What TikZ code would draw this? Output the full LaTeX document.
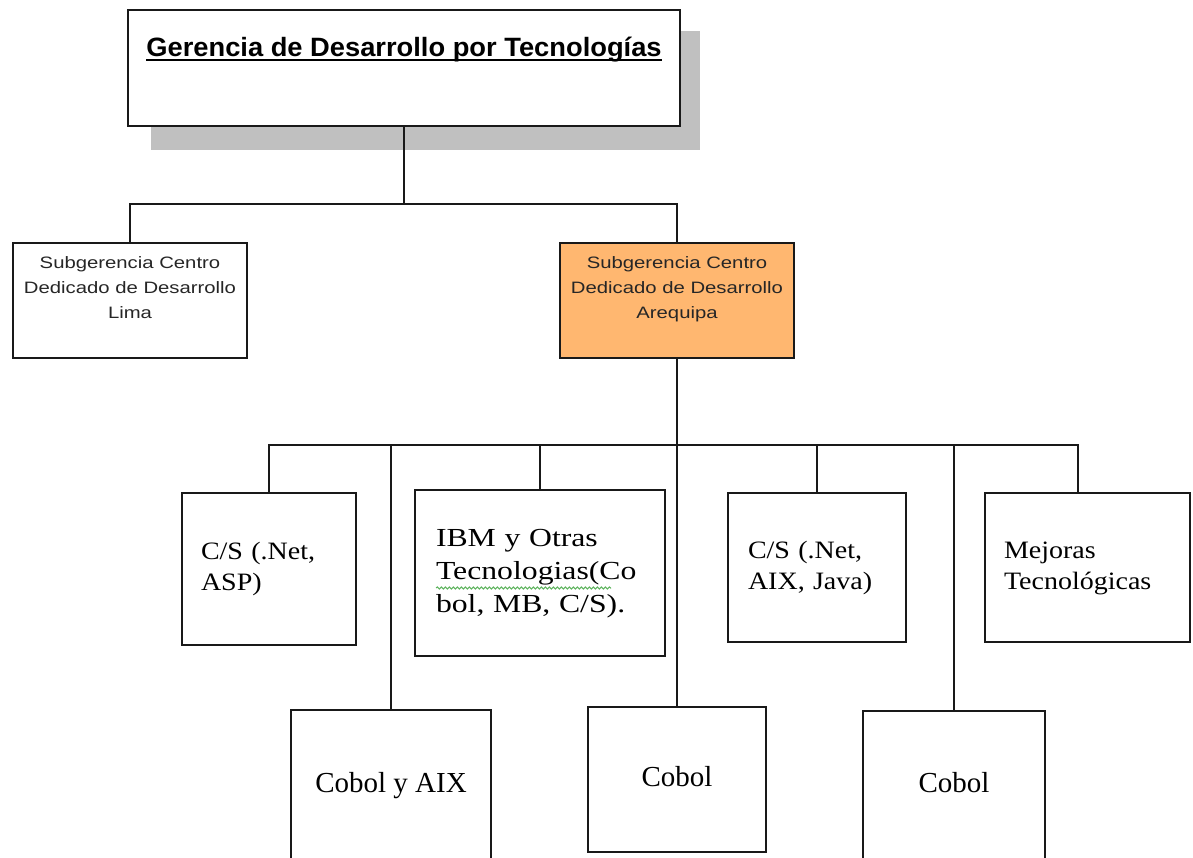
\documentclass[tikz,border=0pt]{standalone}
\usepackage{fontspec}
\usetikzlibrary{decorations.pathmorphing}
\newfontfamily\titlef[FakeStretch=1.03]{Liberation Sans}
\newfontfamily\subf[FakeStretch=1.23]{Liberation Sans}
\newfontfamily\serf[FakeStretch=1.12]{Liberation Serif}
\newfontfamily\serfw[FakeStretch=1.22]{Liberation Serif}
\newfontfamily\serfn{Liberation Serif}
\newcommand\myul[1]{\leavevmode\setbox0\hbox{#1}\rlap{\rule[-4.5pt]{\wd0}{1.8pt}}\box0}
\definecolor{linec}{RGB}{25,25,25}
\definecolor{orangefill}{RGB}{255,183,112}
\definecolor{shadowgray}{RGB}{192,192,192}
\definecolor{spellgreen}{RGB}{95,180,95}
\tikzset{
  box/.style={draw=linec, line width=1.8pt, inner sep=0pt, fill=white},
  conn/.style={draw=linec, line width=1.5pt},
  subtext/.style={font=\subf\fontsize{16.5}{25}\selectfont, align=center, text=black!85},
  midtext/.style={font=\serf\fontsize{25}{31}\selectfont, align=left, inner xsep=19pt},
  bottext/.style={font=\serfn\fontsize{29}{35}\selectfont, align=center},
  shadowfill/.style={fill=shadowgray},
  spell/.style={draw=spellgreen, line width=1pt, decorate, decoration={snake, segment length=4pt, amplitude=1.1pt}}
}
\begin{document}
\begin{tikzpicture}[x=1pt,y=-1pt]
\useasboundingbox (0,0) rectangle (1193,857);
% shadow of top box
\fill[shadowgray] (151,31) rectangle (700,150);
% top box
\node[box, minimum width=552, minimum height=116, font=\titlef\bfseries\fontsize{26.5}{40}\selectfont, align=center] (ger) at (404,68)
  {\strut\myul{Gerencia de Desarrollo por Tecnologías}\\ \strut};
% second level
\node[box, subtext, minimum width=234, minimum height=115] (lima) at (130,300.5)
  {\strut Subgerencia Centro\\ \strut Dedicado de Desarrollo\\ \strut Lima\\ \strut};
\node[box, subtext, fill=orangefill, minimum width=234, minimum height=115] (areq) at (677,300.5)
  {\strut Subgerencia Centro\\ \strut Dedicado de Desarrollo\\ \strut Arequipa\\ \strut};
% third level (upper row)
\node[box, midtext, text width=136, minimum height=152] (csasp) at (269,569)
  {\strut C/S (.Net,\\ \strut ASP)};
\node[box, midtext, font=\serfw\fontsize{26}{33}\selectfont, inner xsep=21pt, text width=208, minimum height=166] (ibm) at (540,573)
  {\strut IBM y Otras\\ \strut Tecnologias(Co\\ \strut bol, MB, C/S).};
\node[box, midtext, inner xsep=20pt, text width=138, minimum height=149] (csaix) at (817,567.5)
  {\strut C/S (.Net,\\ \strut AIX, Java)};
\node[box, midtext, text width=167, minimum height=149] (mej) at (1087.5,567.5)
  {\strut Mejoras\\ \strut Tecnológicas};
% third level (lower row)
\node[box, bottext, minimum width=200, minimum height=150] (cobaix) at (391,785)
  {\strut Cobol y AIX};
\node[box, bottext, minimum width=178, minimum height=145] (cob1) at (677,779.5)
  {\strut Cobol};
\node[box, bottext, minimum width=182, minimum height=149] (cob2) at (954,785.5)
  {\strut Cobol};
% spell-check squiggle
\draw[spell] ([shift={(22,15)}]ibm.west) -- ([shift={(197,15)}]ibm.west);
% connectors
\coordinate (j1) at (404,204);
\draw[conn] (ger.south) -- (j1);
\draw[conn] (lima.north) |- (j1) -| (areq.north);
\path (areq.south) ++(0,86) coordinate (j2);
\draw[conn] (areq.south) -- (cob1.north);
\draw[conn] (csasp.north) |- (j2);
\draw[conn] (cobaix.north) |- (j2);
\draw[conn] (ibm.north) |- (j2);
\draw[conn] (csaix.north) |- (j2);
\draw[conn] (cob2.north) |- (j2);
\draw[conn] ([xshift=-9.5pt]mej.north) |- (j2);
\end{tikzpicture}
\end{document}
